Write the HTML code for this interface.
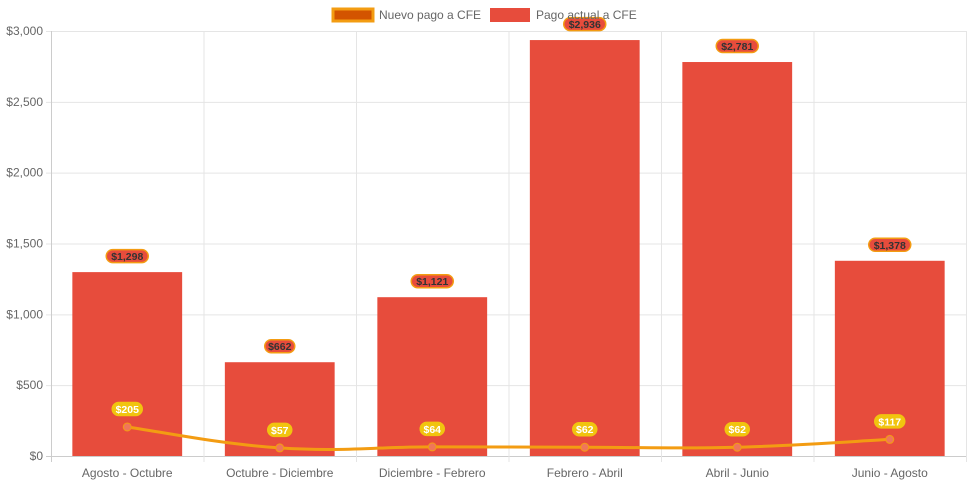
<!DOCTYPE html>
<html><head><meta charset="utf-8"><style>
body{margin:0;background:#fff;font-family:"Liberation Sans",Arial,sans-serif}
svg text{font-family:"Liberation Sans",Arial,sans-serif}
</style></head><body>
<svg id="c" width="971" height="485"></svg>
<script>
const categories=["Agosto - Octubre","Octubre - Diciembre","Diciembre - Febrero","Febrero - Abril","Abril - Junio","Junio - Agosto"];
const actualValues=[1298,662,1121,2936,2781,1378];
const newValues=[205,57,64,62,62,117];
const yTicks=[0,500,1000,1500,2000,2500,3000];
const yTickLabels=["$0","$500","$1,000","$1,500","$2,000","$2,500","$3,000"];
const svg=document.getElementById('c');
const NS='http://www.w3.org/2000/svg';
const L=51,R=966,T=31,B=456,MAX=3000;
const bw=(R-L)/categories.length;
function y(v){return B-(v/MAX)*(B-T);}
function x(i){return L+bw*(i+0.5);}
function el(t,a,p){const e=document.createElementNS(NS,t);for(const k in a)e.setAttribute(k,a[k]);(p||svg).appendChild(e);return e;}
function fmt(v){return '$'+v.toLocaleString('en-US');}
yTicks.forEach((v,i)=>{
 const g=el('line',{x1:L-5,x2:R,y1:y(v)+.5,y2:y(v)+.5,stroke:i==0?'#ccc':'#e5e5e5'});
 
 const t=el('text',{x:L-8,y:y(v)+4,'text-anchor':'end','font-size':12,fill:'#666'});t.textContent=yTickLabels[i];
 
});
for(let i=0;i<=categories.length;i++){
 const g=el('line',{x1:L+bw*i+.5,x2:L+bw*i+.5,y1:T,y2:B+6,stroke:i==0?'#ccc':'#e5e5e5'});
 
}
categories.forEach((c,i)=>{
 const t=el('text',{x:x(i),y:B+21,'text-anchor':'middle','font-size':12,fill:'#666'});t.textContent=c;
 
});
const barW=bw*0.72;
actualValues.forEach((v,i)=>{
 const r=el('rect',{x:x(i)-barW/2,y:y(v),width:barW,height:B-y(v),fill:'#e74c3c'});
 
});
const pts=newValues.map((v,i)=>[x(i),y(v)]);
let d='M'+pts[0][0]+','+pts[0][1];
const tn=0.4;
for(let i=0;i<pts.length-1;i++){
 const p0=pts[Math.max(i-1,0)],p1=pts[i],p2=pts[i+1],p3=pts[Math.min(i+2,pts.length-1)];
 const c1=[p1[0]+(p2[0]-p0[0])*tn/2,p1[1]+(p2[1]-p0[1])*tn/2];
 const c2=[p2[0]-(p3[0]-p1[0])*tn/2,p2[1]-(p3[1]-p1[1])*tn/2];
 d+=` C${c1[0]},${c1[1]} ${c2[0]},${c2[1]} ${p2[0]},${p2[1]}`;
}
const ln=el('path',{d:d,fill:'none',stroke:'#f39c12','stroke-width':3});

pts.forEach(p=>{
 const c=el('circle',{cx:p[0],cy:p[1],r:4,fill:'#f0765a',stroke:'#f39c12','stroke-width':1});
 
});
function label(cx,cy,txt,bg,border,col){
 const w=txt.length*6+6;
 const r=el('rect',{x:cx-w/2,y:cy-6.5,width:w,height:13,rx:6.5,fill:bg,stroke:border,'stroke-width':1.5});
 
 const t=el('text',{x:cx,y:cy+4,'text-anchor':'middle','font-size':10.5,'font-weight':'bold',fill:col});t.textContent=txt;
 
}
actualValues.forEach((v,i)=>label(x(i),y(v)-16,fmt(v),'#e74c3c','#f39c12','#333'));
newValues.forEach((v,i)=>label(x(i),y(v)-18,fmt(v),'#f1c40f','#f1c40f','#fff'));
let lg=el('rect',{x:333,y:9,width:40,height:12,fill:'#d35400',stroke:'#f39c12','stroke-width':3});

let lt=el('text',{x:379,y:19,'font-size':12,fill:'#666'});lt.textContent='Nuevo pago a CFE';

lg=el('rect',{x:490,y:8,width:40,height:14,fill:'#e74c3c'});

lt=el('text',{x:536,y:19,'font-size':12,fill:'#666'});lt.textContent='Pago actual a CFE';

</script>
</body></html>
